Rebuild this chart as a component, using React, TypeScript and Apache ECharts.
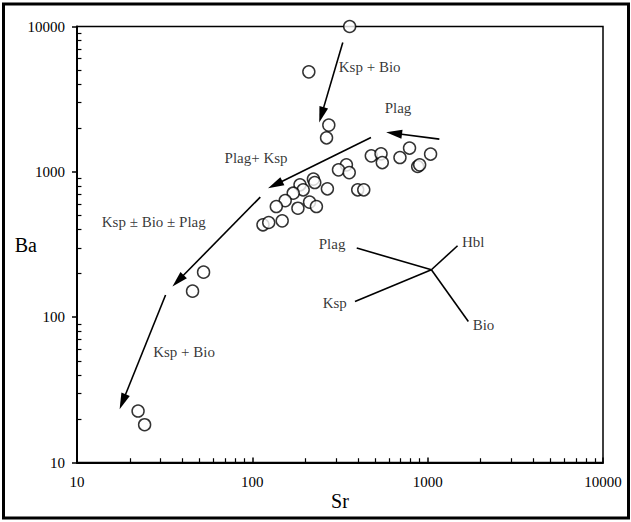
import React, { useEffect, useRef } from "react";
import * as echarts from "echarts";

// Sr (ppm) and Ba (ppm) of the samples
const srValues = [359, 210, 273, 265, 477, 542, 551, 695, 788, 877, 900, 1039, 344, 310, 357, 399, 432, 268, 223, 227, 187, 195, 171, 154, 137, 212, 182, 232, 115, 124, 148, 52.7, 45.6, 22.3, 24.3];
const baValues = [10000, 4875, 2096, 1714, 1288, 1330, 1158, 1254, 1457, 1088, 1117, 1325, 1117, 1032, 988, 752, 752, 764, 891, 844, 814, 752, 713, 634, 577, 619, 562, 577, 432, 448, 460, 204, 151, 22.6, 18.2];

// fractionation arrows: [fromSr, fromBa, toSr, toBa]
const arrows = [
  [328, 7762, 248, 2466],
  [1166, 1679, 643, 1845],
  [475, 1722, 135, 814],
  [111, 670, 37.7, 178],
  [32, 142, 18.2, 26.2],
];

// mineral vector diagram: centre and end points
const vectorCentre = [1050, 212];
const vectorEnds = [
  [394, 299],
  [1481, 310],
  [385, 128],
  [1706, 93.3],
];

// annotation texts: [Sr, Ba, text]
const annotations: [number, number, string][] = [
  [467, 5224, "Ksp + Bio"],
  [677, 2744, "Plag"],
  [105, 1241, "Plag+ Ksp"],
  [27.4, 455, "Ksp ± Bio ± Plag"],
  [40.8, 57.4, "Ksp + Bio"],
  [285, 318, "Plag"],
  [1817, 328, "Hbl"],
  [295, 125, "Ksp"],
  [2083, 88.5, "Bio"],
];

// minor tick values of the log axes (same on both axes)
const minorTickValues = [20, 30, 40, 50, 60, 70, 80, 90, 200, 300, 400, 500, 600, 700, 800, 900, 2000, 3000, 4000, 5000, 6000, 7000, 8000, 9000];
const tickBase = 10.02;
// tick end expressed along the log axes (x, y)
const tickEndX = 10.6;
const tickEndY = 10.7;

const FONT = "'Liberation Serif', 'Times New Roman', serif";

export default function App() {
  const ref = useRef<HTMLDivElement>(null);
  useEffect(() => {
    if (!ref.current) return;
    const chart = echarts.init(ref.current, undefined, { renderer: "svg" });

    const markLines: any[] = [];
    arrows.forEach((a) => {
      markLines.push([
        { coord: [a[0], a[1]], symbol: "none" },
        { coord: [a[2], a[3]], symbol: "triangle", symbolSize: [9, 16] },
      ]);
    });
    vectorEnds.forEach((e) => {
      markLines.push([
        { coord: vectorCentre, symbol: "none" },
        { coord: e, symbol: "none" },
      ]);
    });
    minorTickValues.forEach((v) => {
      markLines.push([
        { coord: [v, tickBase], symbol: "none", lineStyle: { width: 1.2 } },
        { coord: [v, tickEndY], symbol: "none" },
      ]);
      markLines.push([
        { coord: [tickBase, v], symbol: "none", lineStyle: { width: 1.2 } },
        { coord: [tickEndX, v], symbol: "none" },
      ]);
    });

    chart.setOption({
      animation: false,
      backgroundColor: "#ffffff",
      grid: {
        left: 77,
        right: 28,
        top: 26.5,
        bottom: 59.5,
        containLabel: false,
        outerBoundsMode: "none",
        show: true,
        borderColor: "#000",
        borderWidth: 1.5,
        backgroundColor: "transparent",
      },
      xAxis: {
        type: "log",
        logBase: 10,
        min: 10,
        max: 10000,
        name: "Sr",
        nameLocation: "middle",
        nameGap: 28,
        nameMoveOverlap: false,
        nameTextStyle: { fontFamily: FONT, fontSize: 20, color: "#000" },
        axisLine: { show: true, lineStyle: { color: "#000", width: 2 } },
        axisTick: { show: true, inside: true, length: 5, lineStyle: { color: "#000", width: 1.5 } },
        axisLabel: { fontFamily: FONT, fontSize: 15, color: "#000", margin: 12, formatter: (v: number) => String(v) },
        splitLine: { show: false },
      },
      yAxis: {
        type: "log",
        logBase: 10,
        min: 10,
        max: 10000,
        name: "Ba",
        nameLocation: "middle",
        nameRotate: 0,
        nameGap: 40,
        nameMoveOverlap: false,
        nameTextStyle: { fontFamily: FONT, fontSize: 20, color: "#000" },
        axisLine: { show: true, lineStyle: { color: "#000", width: 2 } },
        axisTick: { show: true, inside: false, length: 5, lineStyle: { color: "#000", width: 1.5 } },
        axisLabel: { fontFamily: FONT, fontSize: 15, color: "#000", margin: 12, formatter: (v: number) => String(v) },
        splitLine: { show: false },
      },
      graphic: [
        {
          type: "rect",
          shape: { x: 3.5, y: 4, width: 625, height: 514 },
          style: { fill: "none", stroke: "#000", lineWidth: 3 },
          silent: true,
        },
      ],
      series: [
        {
          type: "scatter",
          name: "samples",
          data: srValues.map((s, i) => [s, baValues[i]]),
          symbol: "circle",
          symbolSize: 12,
          clip: false,
          itemStyle: { color: "#fff", borderColor: "#000", borderWidth: 1.5 },
          z: 3,
          markLine: {
            silent: true,
            symbol: ["none", "none"],
            label: { show: false },
            lineStyle: { color: "#000", width: 1.6, type: "solid" },
            emphasis: { disabled: true },
            data: markLines,
          },
        },
        {
          type: "scatter",
          name: "annotations",
          data: annotations.map((a) => [a[0], a[1], a[2]]),
          symbolSize: 0,
          silent: true,
          clip: false,
          label: {
            show: true,
            position: "inside",
            formatter: (p: any) => p.data[2],
            fontFamily: FONT,
            fontSize: 15,
            color: "#000",
            textBorderWidth: 0,
          },
        },
      ],
    });
    return () => chart.dispose();
  }, []);
  return <div ref={ref} style={{ position: "absolute", left: 0, top: 0, width: 631, height: 522 }} />;
}
